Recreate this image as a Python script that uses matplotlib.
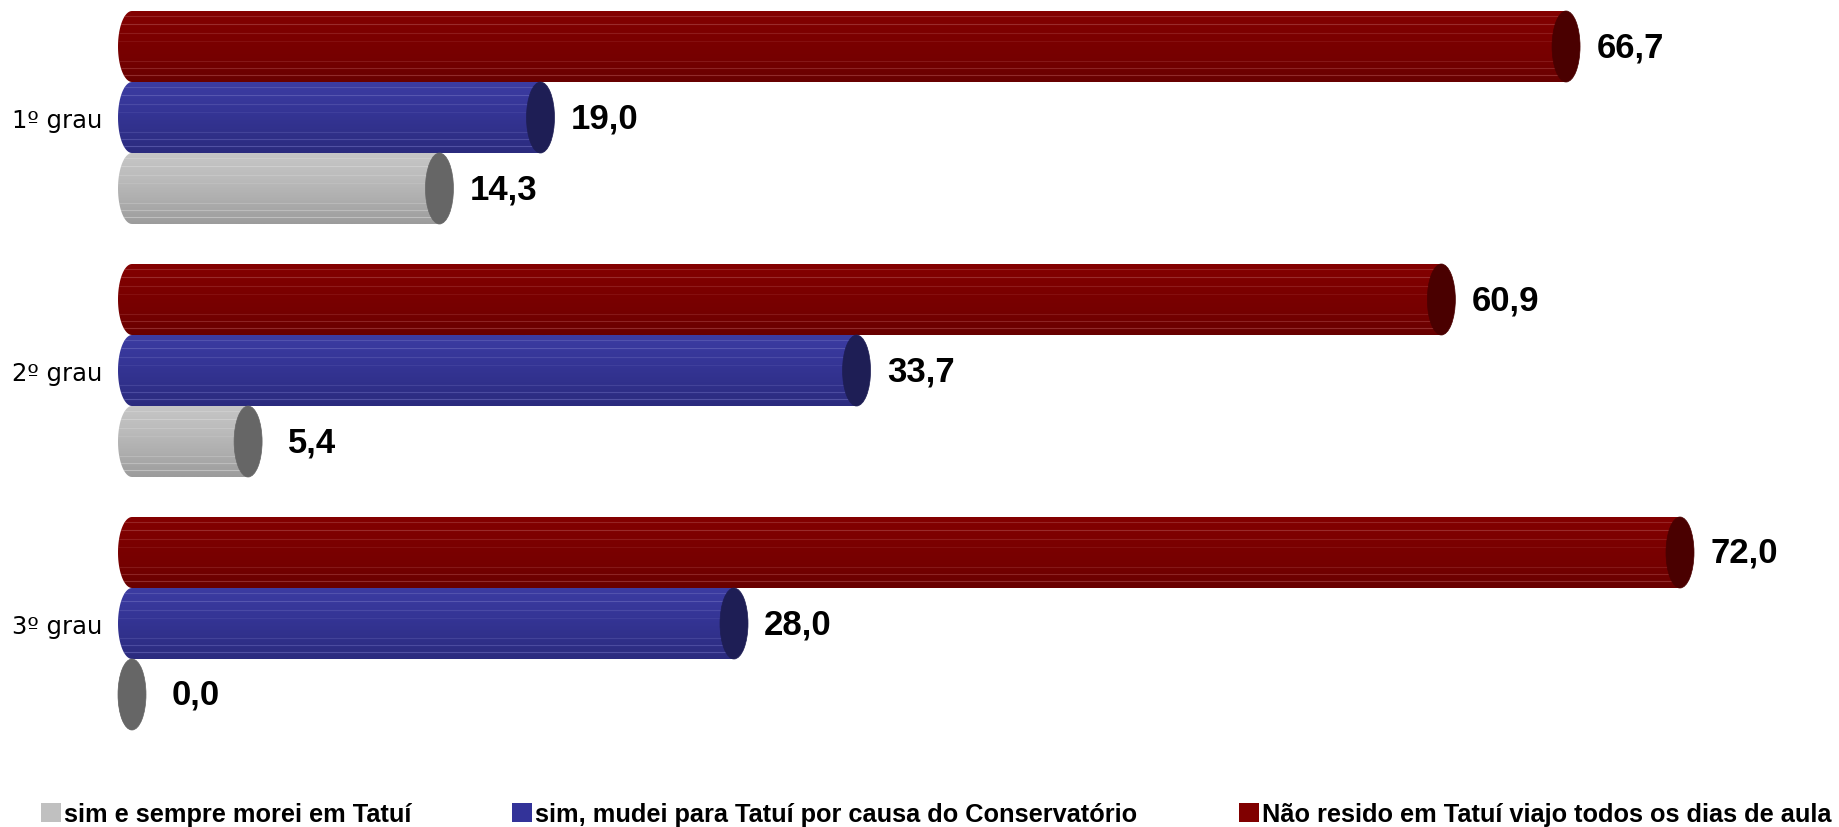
import numpy as np
import matplotlib
matplotlib.use("Agg")
import matplotlib.pyplot as plt
from matplotlib.patches import Polygon, Ellipse, Patch
from matplotlib.colors import to_rgb

categories = ["1º grau", "2º grau", "3º grau"]
series_names = ["sim e sempre morei em Tatuí",
                "sim, mudei para Tatuí por causa do Conservatório",
                "Não resido em Tatuí viajo todos os dias de aula"]
sempre = [14.3, 5.4, 0.0]
mudei = [19.0, 33.7, 28.0]
nao_reside = [66.7, 60.9, 72.0]

W, H = 1839, 828
fig = plt.figure(figsize=(W / 100, H / 100), dpi=100)

px_per_unit = 21.5
zero_px = 132
xmin, xmax = -1, 79
ax_left_px = zero_px + xmin * px_per_unit
ax_w = (xmax - xmin) * px_per_unit
top_px, bot_px = 0, 760
pitch = 253.0
g0 = 118.5
ax = fig.add_axes([ax_left_px / W, 1 - bot_px / H, ax_w / W, (bot_px - top_px) / H])
ylim = ((bot_px - g0) / pitch, (top_px - g0) / pitch)

h = 71 / pitch
cap_w = 28 / px_per_unit

styles = {
    "red": dict(stops=["#840000", "#7c0000", "#760000", "#680000"],
                line="#b05050", cap="#4a0000", legend="#800000"),
    "blue": dict(stops=["#3c3ca2", "#363698", "#31318c", "#2b2b7e"],
                 line="#7070c0", cap="#1e1e55", legend="#333399"),
    "gray": dict(stops=["#c6c6c6", "#bcbcbc", "#aeaeae", "#9c9c9c"],
                 line="#dadada", cap="#666666", legend="#c0c0c0"),
}
line_fracs = [0.07, 0.18, 0.31, 0.42, 0.70, 0.80, 0.90]
line_alphas = [0.45, 0.55, 0.35, 0.2, 0.3, 0.45, 0.55]


def gradient(stops, n=64):
    cols = np.array([to_rgb(c) for c in stops])
    t = np.linspace(0, 1, n)
    ts = np.linspace(0, 1, len(stops))
    arr = np.stack([np.interp(t, ts, cols[:, k]) for k in range(3)], axis=1)
    return arr[:, None, :]


def cylinder(y, v, st):
    yt, yb = y - h / 2, y + h / 2
    th = np.linspace(np.pi / 2, 3 * np.pi / 2, 40)
    left = np.column_stack([(cap_w / 2) * np.cos(th), y + (h / 2) * np.sin(th)])
    pts = np.vstack([[[v, yt], [v, yb]], left])
    poly = Polygon(pts, closed=True, facecolor="none", edgecolor="none")
    ax.add_patch(poly)
    im = ax.imshow(gradient(st["stops"]), extent=(-cap_w / 2, max(v, 0.01), yb, yt),
                   origin="upper", aspect="auto", interpolation="bilinear", zorder=2)
    im.set_clip_path(poly)
    for f, a in zip(line_fracs, line_alphas):
        ln, = ax.plot([-cap_w / 2, v], [yt + f * h, yt + f * h], color=st["line"],
                      lw=0.8, alpha=a, zorder=3, solid_capstyle="butt")
        ln.set_clip_path(poly)
    cap = Ellipse((v, y), cap_w, h, facecolor=st["cap"], edgecolor=st["cap"], lw=0.5, zorder=4)
    ax.add_patch(cap)
    ax.annotate(f"{v:.1f}".replace(".", ","), xy=(v, y), xytext=(64, 0),
                textcoords="offset pixels", ha="center", va="center",
                fontsize=25, fontweight="bold", family="Liberation Sans", color="black")


for i in range(len(categories)):
    cylinder(i - h, nao_reside[i], styles["red"])
    cylinder(i, mudei[i], styles["blue"])
    cylinder(i + h, sempre[i], styles["gray"])

ax.set_xlim(xmin, xmax)
ax.set_ylim(*ylim)
ax.set_yticks(range(len(categories)))
ax.set_yticklabels(categories, fontsize=17.5, family="DejaVu Sans")
ax.tick_params(axis="y", length=0, pad=6)
ax.set_xticks([])
for s in ax.spines.values():
    s.set_visible(False)
ax.patch.set_visible(False)

fs = 18.3
em = fs / 72 * 100
handles = [Patch(facecolor=styles[k]["legend"], edgecolor="none") for k in ["gray", "blue", "red"]]
fig.legend(handles, series_names, loc="center left", bbox_to_anchor=(41 / W, 1 - 815 / H),
           ncol=3, frameon=False,
           prop=dict(family="Liberation Sans", weight="bold", size=fs),
           handlelength=20 / em, handleheight=20 / em, handletextpad=3 / em,
           columnspacing=101 / em, borderpad=0, borderaxespad=0)

fig.savefig("out.png", dpi=100)
